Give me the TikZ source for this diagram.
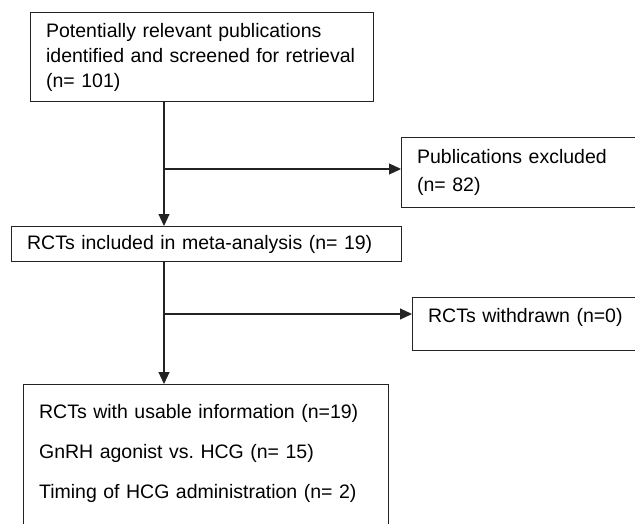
\documentclass[tikz,border=0pt]{standalone}
\usepackage{fontspec}
\setmainfont{Liberation Sans}
\usepackage{xcolor}
\usepackage{tikz}
\usetikzlibrary{arrows.meta, positioning}
\definecolor{frameline}{RGB}{35, 35, 35}
\frenchspacing

\begin{document}
\begin{tikzpicture}[x=1pt, y=-1pt,
                box/.style={draw=frameline, line width=1.2pt, anchor=north west,
                            align=left, inner xsep=15.5pt,
                            font=\fontsize{19.5}{25}\selectfont},
                flow/.style={-{Triangle[length=12pt, width=11pt]},
                             line width=1.2pt, frameline}]
                \useasboundingbox (0,0) rectangle (635,523);
                \clip (0,0) rectangle (635,523);
                \node[box, minimum width=343pt, minimum height=89pt, text width=312pt]
                      (pub) at (30,12) {Potentially relevant publications\\
                      identified and screened for retrieval\\
                      (n= 101)};
                \node[box, minimum width=300pt, minimum height=70pt, text width=269pt,
                      font=\fontsize{19.5}{28}\selectfont]
                      (excl) at (401,137) {Publications excluded\\
                      (n= 82)};
                \node[box, minimum width=390pt, minimum height=35pt, text width=359pt]
                      (incl) at (11,226) {RCTs included in meta-analysis (n= 19)};
                \node[box, minimum width=300pt, minimum height=53pt, text width=269pt,
                      text depth=17pt]
                      (withdr) at (412,297) {RCTs withdrawn (n=0)};
                \node[box, minimum width=365pt, text width=334pt, inner ysep=20pt,
                      text depth=120pt, font=\fontsize{19.5}{40}\selectfont]
                      (usable) at (23,384) {RCTs with usable information (n=19)\\
                      GnRH agonist vs. HCG (n= 15)\\
                      Timing of HCG administration (n= 2)};

                \coordinate (split1) at (164,169);
                \coordinate (split2) at (164,314);
                \draw[flow] (pub.south -| split1) -- (incl.north -| split1);
                \draw[flow] (split1) -- (excl.west |- split1);
                \draw[flow] (incl.south -| split2) -- (usable.north -| split2);
                \draw[flow] (split2) -- (withdr.west |- split2);
            \end{tikzpicture}
\end{document}
